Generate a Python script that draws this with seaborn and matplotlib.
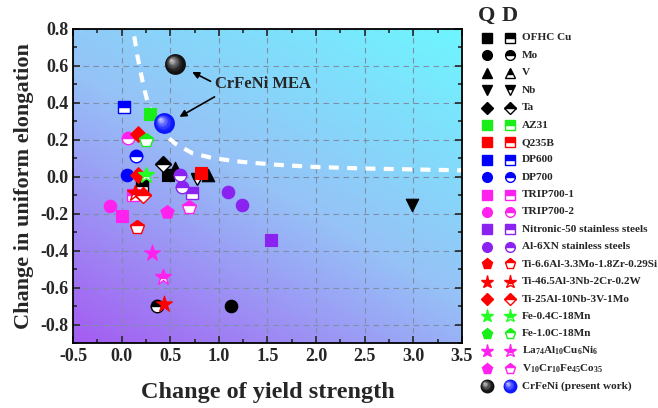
import numpy as np
import seaborn as sns
import matplotlib.pyplot as plt
from matplotlib.colors import LinearSegmentedColormap, to_rgb
from matplotlib.transforms import offset_copy
from matplotlib.ticker import MultipleLocator

# series shown in the legend (Q = full marker, D = half-filled marker)
series = ['OFHC Cu', 'Mo', 'V', 'Nb', 'Ta', 'AZ31', 'Q235B', 'DP600', 'DP700',
          'TRIP700-1', 'TRIP700-2', 'Nitronic-50 stainless steels',
          'Al-6XN stainless steels', 'Ti-6.6Al-3.3Mo-1.8Zr-0.29Si',
          'Ti-46.5Al-3Nb-2Cr-0.2W', 'Ti-25Al-10Nb-3V-1Mo', 'Fe-0.4C-18Mn',
          'Fe-1.0C-18Mn', r'La$_{74}$Al$_{10}$Cu$_6$Ni$_6$',
          r'V$_{10}$Cr$_{10}$Fe$_{45}$Co$_{35}$']
markers = ['s', 'o', '^', 'v', 'D', 's', 's', 's', 'o', 's', 'o', 's', 'o',
           'p', '*', 'D', '*', 'p', '*', 'p']
colors = ['black', 'black', 'black', 'black', 'black', '#19ee19', '#ff0000',
          '#0000ff', '#0000ff', '#ff22ee', '#ff22ee', '#8a22f0', '#8a22f0',
          '#ff0000', '#ff0000', '#ff0000', '#22ff22', '#19ee19', '#ff22ee',
          '#ff22ee']

q_x = [[0.48], [1.12], [0.55, 0.89], [2.99], [], [0.29], [0.82], [], [0.06],
       [0.0], [-0.12], [1.54], [1.09, 1.24], [], [0.44], [0.17, 0.17], [], [],
       [0.31], [0.47]]
q_y = [[0.01], [-0.70], [0.045, 0.01], [-0.155], [], [0.34], [0.02], [], [0.01],
       [-0.21], [-0.16], [-0.344], [-0.08, -0.15], [], [-0.69], [0.23, 0.01],
       [], [], [-0.41], [-0.19]]
d_x = [[0.21], [0.36], [], [0.77], [0.43], [], [], [0.02], [0.15], [0.12],
       [0.07], [0.72], [0.60, 0.62], [0.16], [0.14], [0.22], [0.25], [0.25],
       [0.43], [0.69]]
d_y = [[-0.05], [-0.70], [], [-0.01], [0.07], [], [], [0.38], [0.11], [-0.10],
       [0.21], [-0.085], [0.01, -0.055], [-0.27], [-0.09], [-0.10], [0.01],
       [0.20], [-0.54], [-0.165]]

# present work
crfeni_q = (0.55, 0.61)
crfeni_d = (0.44, 0.29)

# white dashed guide curve
curve_x = [0.13, 0.16, 0.19, 0.23, 0.27, 0.33, 0.43, 0.55, 0.73, 0.95, 1.25,
           1.6, 2.0, 2.5, 3.0, 3.5]
curve_y = [0.76, 0.66, 0.58, 0.48, 0.40, 0.32, 0.235, 0.18, 0.127, 0.10, 0.08,
           0.065, 0.053, 0.045, 0.04, 0.035]

sns.set_style('ticks')
plt.rcParams['font.family'] = ['Liberation Serif', 'DejaVu Serif']
plt.rcParams['font.weight'] = 'bold'
plt.rcParams['mathtext.fontset'] = 'custom'
plt.rcParams['mathtext.rm'] = 'Liberation Serif:bold'
plt.rcParams['mathtext.default'] = 'rm'
plt.rcParams['axes.unicode_minus'] = False

fig = plt.figure(figsize=(6.58, 4.08), dpi=100)
ax = fig.add_axes([0.111, 0.159, 0.591, 0.770])

xlim = (-0.5, 3.5)
ylim = (-0.9, 0.8)

# gradient background
cmap = LinearSegmentedColormap.from_list('bg', ['#a45cf2', '#96c2f7', '#6ef6ff'])
u, v = np.meshgrid(np.linspace(0, 1, 200), np.linspace(0, 1, 200))
ax.imshow(cmap(0.42 * u + 0.58 * v), extent=(*xlim, *ylim), origin='lower',
          aspect='auto', zorder=0)

ax.grid(True, color='#7f8fa8', linestyle=(0, (5, 4)), linewidth=0.8)
ax.set_axisbelow(True)

ms = {'*': 12, 'D': 8, 'p': 10, '^': 9, 'v': 9}
for name, m, c, qx, qy, dx, dy in zip(series, markers, colors, q_x, q_y, d_x, d_y):
    size = ms.get(m, 9)
    if qx:
        sns.scatterplot(x=qx, y=qy, marker=m, color=c, edgecolor=c,
                        s=size ** 2, linewidth=0.8, ax=ax, zorder=3)
    if dx:
        ax.plot(dx, dy, linestyle='', marker=m, markersize=size, color=c,
                markeredgecolor=c, markerfacecoloralt='white',
                fillstyle='top', markeredgewidth=1.0, zorder=3)


def sphere(axis, x, y, color, size, trans_base, zorder=4):
    base = np.array(to_rgb(color))
    axis.scatter([x], [y], s=size ** 2, color=base, linewidth=0,
                 transform=trans_base, zorder=zorder)
    for k, f in enumerate(np.linspace(0.85, 0.12, 8)):
        shade = base + (1 - base) * (0.08 + 0.75 * k / 7) ** 1.5
        tr = offset_copy(trans_base, fig=fig, x=-(1 - f) * size * 0.22,
                         y=(1 - f) * size * 0.22, units='points')
        axis.scatter([x], [y], s=(size * f) ** 2, color=np.clip(shade, 0, 1),
                     linewidth=0, transform=tr, zorder=zorder)


sphere(ax, *crfeni_q, '#111111', 15, ax.transData)
sphere(ax, *crfeni_d, '#0a14ff', 15, ax.transData)

ax.plot(curve_x, curve_y, color='white', linestyle=(0, (2.4, 2.0)),
        linewidth=3, zorder=2)

ax.text(1.45, 0.50, 'CrFeNi MEA', fontsize=12, fontweight='bold',
        ha='center', va='center', zorder=5)
arrow = dict(arrowstyle='-|>', color='black', lw=1.2, mutation_scale=10)
ax.annotate('', xy=(0.70, 0.574), xytext=(0.94, 0.51), arrowprops=arrow, zorder=5)
ax.annotate('', xy=(0.57, 0.317), xytext=(0.98, 0.44), arrowprops=arrow, zorder=5)

ax.set_xlim(*xlim)
ax.set_ylim(*ylim)
ax.set_xticks(np.arange(-0.5, 3.51, 0.5))
yt = np.round(np.arange(-0.8, 0.81, 0.2), 1)
ax.set_yticks(yt)
ax.set_yticklabels([f'{t:.1f}' for t in yt + 0.0])
ax.xaxis.set_minor_locator(MultipleLocator(0.25))
ax.yaxis.set_minor_locator(MultipleLocator(0.1))
ax.tick_params(which='both', direction='in', top=True, right=True,
               labelsize=13, width=1.2)
ax.tick_params(which='major', length=5)
ax.tick_params(which='minor', length=3)
for lab in ax.get_xticklabels() + ax.get_yticklabels():
    lab.set_fontweight('bold')
for sp in ax.spines.values():
    sp.set_linewidth(1.3)
    sp.set_color('black')

ax.set_xlabel('Change of yield strength', fontsize=17.5, fontweight='bold', labelpad=12)
ax.set_ylabel('Change in uniform elongation', fontsize=16, fontweight='bold', labelpad=4)

# manual legend in pixel coordinates on the right
lax = fig.add_axes([0, 0, 1, 1], facecolor='none')
lax.set_xlim(0, 658)
lax.set_ylim(408, 0)
lax.axis('off')
lax.text(487, 16, 'Q', fontsize=16, fontweight='bold', ha='center', va='center')
lax.text(510, 16, 'D', fontsize=16, fontweight='bold', ha='center', va='center')
row0, dy_row = 38, 17.4
lms = {'*': 9.5, 'D': 6.5, 'p': 8, '^': 7.5, 'v': 7.5}
for i, (name, m, c) in enumerate(zip(series, markers, colors)):
    yy = row0 + i * dy_row
    size = lms.get(m, 7)
    lax.plot([487], [yy], marker=m, markersize=size, color=c, markeredgecolor=c,
             linestyle='')
    lax.plot([510], [yy], marker=m, markersize=size, color=c, markeredgecolor=c,
             markerfacecoloralt='white', fillstyle='top', markeredgewidth=1.0,
             linestyle='')
    lax.text(522, yy, name, fontsize=8.1, fontweight='bold', va='center', ha='left')

yy = row0 + len(series) * dy_row
sphere(lax, 487, yy, '#111111', 10, lax.transData)
sphere(lax, 510, yy, '#0a14ff', 10, lax.transData)
lax.text(522, yy, 'CrFeNi (present work)', fontsize=8.1, fontweight='bold',
         va='center', ha='left')

plt.savefig('out.png', dpi=100)
